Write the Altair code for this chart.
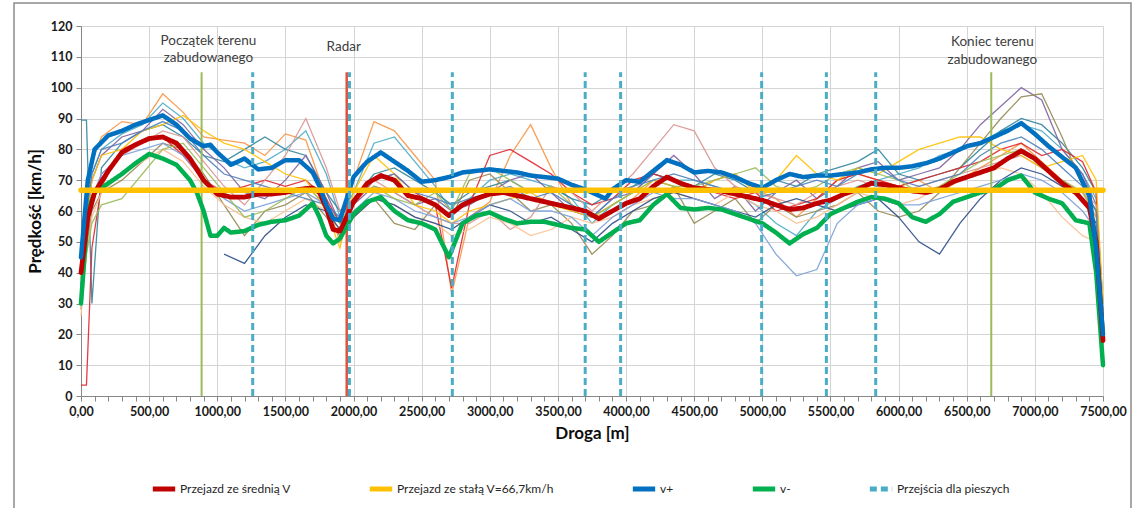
import altair as alt
import pandas as pd

# ---------------- data ----------------
SERIES = ["Przejazd ze średnią V", "Przejazd ze stałą V=66,7km/h", "v+", "v-", "Przejścia dla pieszych"]
SERIES_COLORS = ["#C00000", "#FFC000", "#0070C0", "#00B050", "#4BACC6"]
SERIES_DASH = [[1, 0], [1, 0], [1, 0], [1, 0], [7, 4]]

X_MINOR = list(range(0, 7501, 100))
Y_TICKS = list(range(0, 121, 10))

CONST_V = 66.7

MEAN = [(0, 40), (50, 58), (100, 66), (200, 73), (300, 79), (400, 81.5), (500, 83.5), (600, 84), (700, 82),
        (800, 77), (900, 70), (1000, 65.5), (1100, 64.5), (1200, 64.5), (1300, 65.5), (1400, 65.5), (1500, 66),
        (1600, 67), (1700, 67.5), (1750, 66), (1800, 61), (1850, 54), (1900, 53.5), (1950, 58), (2000, 63),
        (2100, 69), (2200, 71.5), (2300, 70), (2400, 65), (2500, 64), (2600, 62), (2700, 58.5), (2800, 62),
        (2900, 64), (3000, 65.5), (3100, 66), (3200, 65), (3300, 64), (3400, 63), (3500, 62), (3600, 61),
        (3700, 60), (3800, 57.5), (3900, 60), (4000, 62.5), (4100, 64), (4200, 68), (4300, 71), (4400, 69),
        (4500, 67.5), (4600, 67), (4700, 66.5), (4800, 65.5), (4900, 64.5), (5000, 63.5), (5100, 62),
        (5200, 60.5), (5300, 61), (5400, 62.5), (5500, 63.5), (5600, 65.5), (5700, 67), (5800, 69), (5900, 68.5),
        (6000, 67.5), (6100, 66.5), (6200, 66), (6300, 67), (6400, 69.5), (6500, 71), (6600, 72.5), (6700, 74),
        (6800, 77), (6900, 79.5), (7000, 77), (7100, 73), (7200, 69), (7300, 66), (7400, 61), (7450, 50),
        (7500, 18)]

VPLUS = [(0, 45), (50, 70), (100, 80), (200, 84.5), (300, 86), (400, 88), (500, 89.5), (600, 91), (700, 88),
         (800, 83.5), (900, 81), (950, 81.5), (1000, 79), (1100, 75), (1200, 77), (1300, 73.5), (1400, 74),
         (1500, 76.5), (1600, 76.5), (1700, 72.5), (1750, 68), (1800, 62), (1850, 57.5), (1900, 57), (1950, 64),
         (2000, 71), (2100, 76), (2200, 79), (2300, 76), (2400, 73), (2500, 69.5), (2600, 70), (2700, 71),
         (2800, 72.5), (2900, 73), (3000, 73.5), (3100, 73), (3200, 72.5), (3300, 71.5), (3400, 71), (3500, 70.5),
         (3600, 68.5), (3700, 67), (3800, 65), (3850, 64), (3900, 67), (4000, 70), (4100, 69.5), (4200, 73),
         (4300, 76.5), (4400, 75), (4500, 72.5), (4600, 73), (4700, 72.5), (4800, 71), (4900, 69), (5000, 67.5),
         (5100, 70), (5200, 72), (5300, 71), (5400, 71.5), (5500, 71.5), (5600, 72), (5700, 72.5), (5800, 73.5),
         (5900, 74), (6000, 74), (6100, 74.5), (6200, 75.5), (6300, 77), (6400, 79), (6500, 81), (6600, 82),
         (6700, 84), (6800, 86), (6900, 88.5), (7000, 85), (7100, 81), (7200, 77.5), (7300, 74), (7400, 65),
         (7450, 48), (7500, 20)]

VMINUS = [(0, 30), (50, 60), (100, 66), (200, 69), (300, 72), (400, 75.5), (500, 78.5), (600, 77), (700, 75),
          (800, 70), (850, 66), (900, 60), (950, 52), (1000, 52), (1050, 54.5), (1100, 53), (1200, 53.5),
          (1300, 55.5), (1400, 56.5), (1500, 57), (1600, 58.5), (1700, 62.5), (1750, 58), (1800, 52),
          (1850, 49.5), (1900, 51), (2000, 59), (2100, 63), (2200, 64.5), (2300, 60), (2400, 57), (2500, 56),
          (2600, 54), (2700, 45), (2800, 56), (2900, 58.5), (3000, 59.5), (3100, 57.5), (3200, 56), (3300, 56.5),
          (3400, 56.5), (3500, 55.5), (3600, 54.5), (3700, 54), (3800, 50), (3900, 53), (4000, 56), (4100, 57),
          (4200, 62), (4300, 65.5), (4400, 61), (4500, 60.5), (4600, 61), (4700, 60.5), (4800, 59), (4900, 57.5),
          (5000, 56), (5100, 53), (5200, 49.5), (5300, 52.5), (5400, 54.5), (5500, 59), (5600, 61), (5700, 63),
          (5800, 64.5), (5900, 64), (6000, 62.5), (6100, 58), (6200, 56.5), (6300, 59), (6400, 63), (6500, 64.5),
          (6600, 66), (6700, 67), (6800, 70), (6900, 71.5), (7000, 66), (7100, 64), (7200, 62.5), (7300, 57),
          (7400, 56), (7450, 40), (7500, 10)]

# individual runs (thin lines) on a shared distance grid
RUN_X = [0, 40, 80, 150, 300, 450, 600, 750, 900, 1050, 1200,
         1350, 1500, 1650, 1800, 1900, 2000, 2150, 2300, 2450, 2600, 2720,
         2850, 3000, 3150, 3300, 3450, 3600, 3750, 3900, 4050, 4200, 4350,
         4500, 4650, 4800, 4950, 5100, 5250, 5400, 5550, 5700, 5850, 6000,
         6150, 6300, 6450, 6600, 6750, 6900, 7050, 7200, 7350, 7450, 7500]

RUN_ORANGE = [38, 62, 76, 84, 89, 88, 98, 92, 84, 83, 82,
              78, 85, 83, 64, 50, 70, 89, 86, 78, 70, 33,
              58, 63, 78, 88, 74, 62, 58, 60, 64, 70, 68,
              66, 70, 72, 67, 64, 58, 64, 70, 72, 70, 68,
              70, 66, 70, 74, 78, 82, 76, 70, 66, 58, 25]
RUN_TEAL = [35, 58, 72, 80, 85, 88, 95, 90, 82, 77, 74,
            76, 80, 86, 72, 58, 66, 82, 84, 76, 68, 60,
            64, 70, 72, 70, 68, 64, 56, 62, 66, 72, 70,
            70, 68, 66, 62, 56, 52, 60, 64, 68, 70, 72,
            74, 78, 80, 82, 86, 88, 86, 80, 72, 64, 30]
RUN_DARKTEAL = [89.5, 89.5, 30, 74, 82, 86, 88, 84, 78, 76, 80,
                84, 80, 78, 66, 60, 64, 72, 74, 70, 66, 62,
                66, 68, 70, 66, 68, 64, 62, 66, 68, 72, 70,
                68, 72, 70, 66, 70, 68, 72, 74, 76, 80, 72,
                70, 72, 74, 80, 86, 90, 88, 82, 74, 66, 28]
RUN_PURPLE = [32, 55, 70, 78, 84, 86, 93, 88, 80, 74, 66,
              64, 70, 78, 66, 56, 62, 68, 66, 62, 64, 60,
              62, 66, 70, 72, 66, 60, 58, 64, 66, 72, 78,
              72, 64, 68, 60, 66, 70, 64, 68, 74, 76, 70,
              72, 74, 80, 88, 94, 100, 96, 80, 72, 62, 26]
RUN_OLIVE = [28, 48, 60, 66, 70, 76, 82, 80, 72, 62, 52,
             60, 62, 66, 58, 52, 58, 64, 56, 54, 62, 58,
             70, 72, 66, 60, 62, 56, 46, 52, 60, 62, 68,
             56, 60, 64, 56, 62, 58, 60, 62, 66, 60, 58,
             60, 66, 74, 82, 90, 97, 98, 84, 68, 60, 24]
RUN_RED = [3.5, 3.5, 48, 68, 80, 83, 84, 78, 70, 66, 68,
           70, 68, 70, 64, 56, 62, 70, 72, 66, 62, 35,
           62, 78, 80, 76, 72, 66, 62, 64, 70, 72, 70,
           68, 66, 64, 66, 60, 62, 64, 70, 72, 70, 68,
           70, 72, 74, 76, 80, 82, 78, 80, 76, 66, 22]
RUN_PINK = [30, 50, 64, 72, 78, 82, 86, 84, 76, 68, 62,
            70, 78, 90, 74, 60, 64, 70, 66, 62, 58, 56,
            56, 60, 54, 58, 68, 66, 60, 66, 72, 80, 88,
            86, 74, 68, 66, 64, 62, 66, 68, 70, 68, 66,
            68, 70, 72, 74, 76, 78, 74, 70, 66, 62, 24]
RUN_LIGHTORANGE = [26, 46, 58, 66, 72, 76, 80, 76, 68, 62, 58,
                   56, 60, 64, 60, 54, 58, 64, 62, 58, 56, 52,
                   54, 58, 56, 52, 54, 58, 56, 58, 62, 64, 66,
                   64, 62, 66, 62, 60, 56, 58, 62, 66, 64, 62,
                   64, 68, 70, 72, 74, 72, 66, 58, 52, 50, 22]
RUN_YELLOW = [34, 56, 70, 78, 80, 86, 88, 91, 86, 82, 80,
              76, 72, 70, 60, 48, 66, 78, 72, 62, 60, 56,
              60, 62, 64, 66, 62, 60, 58, 62, 66, 70, 68,
              66, 70, 72, 66, 70, 78, 72, 70, 74, 72, 76,
              80, 82, 84, 84, 80, 78, 74, 76, 78, 70, 30]
RUN_DARKBLUE = [None, None, None, None, None, None, None, None, None, 46, 43,
                52, 58, 62, 60, 54, 58, 64, 62, 58, 56, 54,
                58, 62, 60, 56, 58, 54, 50, 56, 60, 64, 66,
                64, 62, 60, 58, 62, 64, 62, 60, 62, 64, 58,
                50, 46, 56, 64, 70, 74, 72, 68, 64, 56, 24]
RUN_LIGHTBLUE = [30, 50, 64, 72, 78, 80, 82, 78, 70, 64, 60,
                 62, 64, 66, 62, 56, 60, 66, 64, 60, 58, 56,
                 58, 62, 64, 60, 60, 58, 52, 58, 62, 66, 64,
                 64, 62, 60, 56, 46, 39, 41, 56, 62, 64, 62,
                 62, 64, 66, 68, 70, 72, 70, 66, 60, 54, 22]
RUN_GREEN = [30, 46, 56, 62, 64, 72, 80, 82, 74, 66, 58,
             60, 64, 68, 62, 56, 64, 68, 64, 62, 66, 60,
             72, 74, 70, 66, 68, 62, 58, 62, 66, 70, 68,
             68, 70, 72, 74, 68, 66, 68, 72, 74, 72, 70,
             66, 68, 72, 76, 78, 80, 74, 70, 66, 60, 26]
RUN_STEEL = [36, 60, 72, 80, 82, 86, 89, 86, 78, 72, 70,
             68, 66, 64, 62, 58, 64, 70, 72, 66, 64, 62,
             64, 66, 68, 64, 66, 62, 58, 64, 68, 70, 72,
             70, 68, 66, 64, 66, 68, 70, 68, 72, 74, 70,
             68, 70, 72, 78, 82, 84, 80, 74, 68, 60, 24]

RUNS = [("#F79646", RUN_ORANGE), ("#4BACC6", RUN_TEAL), ("#31859C", RUN_DARKTEAL),
        ("#8064A2", RUN_PURPLE), ("#948A54", RUN_OLIVE), ("#E0262C", RUN_RED),
        ("#D99694", RUN_PINK), ("#FAC090", RUN_LIGHTORANGE), ("#FFC000", RUN_YELLOW),
        ("#2C4D8A", RUN_DARKBLUE), ("#7BA0D8", RUN_LIGHTBLUE), ("#9BBB59", RUN_GREEN),
        ("#4F81BD", RUN_STEEL)]

CROSSINGS = [1260, 1970, 2725, 3700, 3960, 4995, 5470, 5832]
ZONE_MARKS = [885, 6680]
RADAR = [1950]
MARK_TOP = 105

ANNOT_X = [935, 935, 1928, 6688, 6688]
ANNOT_Y = [115.1, 109.6, 113.2, 114.8, 109.0]
ANNOT_T = ["Początek terenu", "zabudowanego", "Radar", "Koniec terenu", "zabudowanego"]

FONT = "Lato"
W, H = 1022, 370

# ---------------- chart ----------------
xs = alt.Scale(domain=[0, 7500], nice=False, zero=True)
ys = alt.Scale(domain=[0, 120], nice=False)

x_axis = alt.Axis(
    values=X_MINOR,
    labelExpr="datum.value % 500 === 0 ? replace(format(datum.value, '.2f'), '.', ',') : ''",
    gridOpacity={"condition": {"test": "datum.value % 500 === 0", "value": 1}, "value": 0},
    labelOverlap=False, labelFlush=False, labelBound=False,
    title="Droga [m]", titleFontSize=17, titleFont=FONT, titleFontWeight="bold", titleColor="#0D0D0D",
    titlePadding=8, labelFont=FONT, labelFontSize=12.5, labelFontWeight="bold", labelColor="#1A1A1A",
    labelPadding=4, tickSize=5, tickColor="#868686", domainColor="#868686", gridColor="#D4D4D4",
)
y_axis = alt.Axis(
    values=Y_TICKS, title="Prędkość [km/h]", titleFontSize=17, titleFont=FONT, titleFontWeight="bold",
    titleColor="#0D0D0D", titlePadding=6, labelFont=FONT, labelFontSize=12.5, labelFontWeight="bold",
    labelColor="#1A1A1A", labelPadding=4, tickSize=5, tickColor="#868686", domainColor="#868686",
    gridColor="#D4D4D4",
)


def X(field):
    return alt.X(field, type="quantitative", scale=xs, axis=x_axis)


def Y(field):
    return alt.Y(field, type="quantitative", scale=ys, axis=y_axis)


legend = alt.Legend(
    orient="none", legendX=69, legendY=449, direction="horizontal", columns=5, title=None,
    symbolType="stroke", symbolStrokeWidth=5, symbolSize=500, labelFont=FONT, labelFontSize=12,
    labelColor="#262626", columnPadding=68, labelOffset=2,
)
color_enc = alt.Color("s:N", scale=alt.Scale(domain=SERIES, range=SERIES_COLORS), legend=legend)
dash_enc = alt.StrokeDash("s:N", scale=alt.Scale(domain=SERIES, range=SERIES_DASH), legend=legend)

layers = []

# frame around the whole figure (no fill, so the axes stay visible)
frame = alt.Chart(pd.DataFrame({"a": [0]})).mark_rect(
    fill="transparent", stroke="#8C8C8C", strokeWidth=1.5
).encode(x=alt.value(-67), x2=alt.value(1050), y=alt.value(-23), y2=alt.value(495))
layers.append(frame)

for color, vals in RUNS:
    rows = [{"x": x, "v": v} for x, v in zip(RUN_X, vals) if v is not None]
    layers.append(
        alt.Chart(pd.DataFrame(rows)).mark_line(color=color, strokeWidth=1.3, opacity=0.9).encode(
            x=X("x"), y=Y("v"))
    )

# zone and radar markers
zone_df = pd.DataFrame({"x": ZONE_MARKS, "top": [MARK_TOP] * len(ZONE_MARKS), "bot": [0] * len(ZONE_MARKS)})
layers.append(alt.Chart(zone_df).mark_rule(color="#9BBB59", strokeWidth=2).encode(
    x=X("x"), y=Y("bot"), y2="top:Q"))
radar_df = pd.DataFrame({"x": RADAR, "top": [MARK_TOP], "bot": [0]})
layers.append(alt.Chart(radar_df).mark_rule(color="#E0523E", strokeWidth=2.5).encode(
    x=X("x"), y=Y("bot"), y2="top:Q"))


def thick(pairs, name, width):
    df = pd.DataFrame({"x": [p[0] for p in pairs], "v": [p[1] for p in pairs], "s": name})
    return alt.Chart(df).mark_line(strokeWidth=width, strokeCap="round", strokeJoin="round").encode(
        x=X("x"), y=Y("v"), color=color_enc, strokeDash=dash_enc)


layers.append(thick(VMINUS, SERIES[3], 4.5))
layers.append(thick(MEAN, SERIES[0], 4.8))
layers.append(thick(VPLUS, SERIES[2], 4.5))
layers.append(thick([(0, CONST_V), (7500, CONST_V)], SERIES[1], 5.5))

cross_df = pd.DataFrame({"x": CROSSINGS, "top": [MARK_TOP] * len(CROSSINGS), "bot": [0] * len(CROSSINGS),
                         "s": SERIES[4]})
layers.append(alt.Chart(cross_df).mark_rule(strokeWidth=3).encode(
    x=X("x"), y=Y("bot"), y2="top:Q", color=color_enc, strokeDash=dash_enc))

annot_df = pd.DataFrame({"x": ANNOT_X, "v": ANNOT_Y, "t": ANNOT_T})
layers.append(alt.Chart(annot_df).mark_text(font=FONT, fontSize=13.5, color="#404040", align="center",
                                            baseline="middle").encode(
    x=X("x"), y=Y("v"), text="t:N"))

chart = alt.layer(*layers).properties(
    width=W, height=H,
    autosize=alt.AutoSizeParams(type="none"),
    padding={"left": 81, "top": 26, "right": 32, "bottom": 112},
).configure_view(stroke=None).configure(background="white")

chart.save("out.html", embed_options={"renderer": "svg", "actions": False})
